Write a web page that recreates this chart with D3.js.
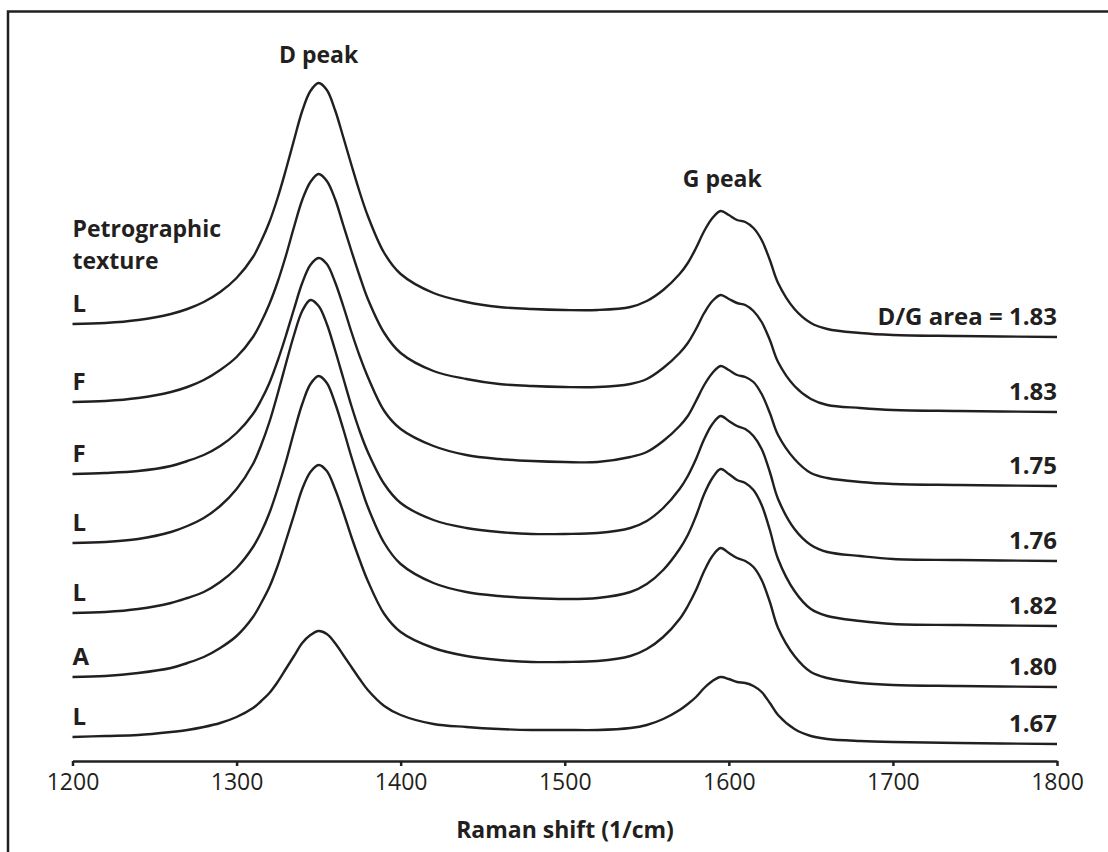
<!DOCTYPE html>
<html>
<head>
<meta charset="utf-8">
<script src="https://cdn.jsdelivr.net/npm/d3@7"></script>
<style>
  html, body { margin: 0; padding: 0; background: #fff; }
  svg { display: block; }
  text { font-family: "Open Sans", "Noto Sans", sans-serif; fill: #231f20; }
</style>
</head>
<body>
<svg id="chart" width="1108" height="852"></svg>
<script>
// Raman shift sample positions (1/cm)
const wavenumbers = [1200,1220,1240,1260,1270,1280,1290,1300,1310,1315,1320,1325,1330,1335,1340,1345,1350,1355,1360,1365,1370,1375,1380,1390,1400,1420,1440,1460,1480,1500,1520,1540,1550,1560,1570,1575,1580,1585,1590,1595,1600,1605,1610,1615,1620,1625,1630,1640,1650,1660,1680,1700,1740,1800];

// Intensities (a.u.) of each spectrum, top to bottom
const spectrum1 = [13,14,17,23,28,35,45,59,80,96,115,139,167,197,226,246,254,247,227,200,172,145,121,84,63,44,35,30,28,27,27,30,36,47,63,74,89,106,119,126,122,117,115,109,97,77,54,28,14,8,4,2,1,0];
const spectrum2 = [10,11,14,20,25,32,42,55,75,90,108,130,156,185,212,230,238,231,213,187,161,136,113,79,59,41,33,28,26,25,25,28,33,44,59,69,83,99,111,117,113,109,107,101,90,72,50,26,13,7,4,2,1,0];
const spectrum3 = [12,13,15,20,25,31,40,53,72,86,103,125,150,177,203,221,228,222,204,180,154,130,109,75,57,40,31,27,25,24,24,29,34,45,60,70,85,101,113,120,116,111,109,104,92,73,51,27,13,8,4,2,1,0];
const spectrum4 = [18,19,22,29,35,43,55,72,97,116,139,167,197,226,250,261,255,237,211,183,155,130,109,77,58,41,33,29,27,27,28,33,40,53,72,85,102,122,137,145,140,135,132,125,112,89,62,32,16,9,5,2,1,0];
const spectrum5 = [13,14,17,23,28,34,44,58,79,94,113,137,164,194,222,242,250,243,223,197,169,143,119,83,62,43,34,30,28,27,28,34,42,56,77,91,110,132,148,157,152,146,143,136,121,96,67,35,17,10,5,2,1,0];
const spectrum6 = [10,11,14,19,24,30,39,51,70,84,100,121,146,172,198,215,222,216,198,175,150,127,106,73,55,39,31,27,25,25,26,31,38,50,68,81,97,116,131,139,134,129,126,120,107,85,59,31,15,9,4,2,1,0];
const spectrum7 = [7,8,9,12,14,17,21,27,36,43,51,62,75,88,101,109,113,110,101,89,77,65,54,38,29,20,17,15,14,14,14,16,19,25,34,40,47,56,63,67,65,62,61,58,52,41,29,15,8,5,3,2,1,0];

// Vertical stacking offsets (a.u.) for each spectrum
const offsets = [424, 349, 275, 200, 135, 74, 17];

// Petrographic texture and D/G area ratio of each spectrum
const textures = ["L", "F", "F", "L", "L", "A", "L"];
const dgAreas = ["1.83", "1.83", "1.75", "1.76", "1.82", "1.80", "1.67"];

// Axis ticks
const xTicks = [1200, 1300, 1400, 1500, 1600, 1700, 1800];

const spectra = [spectrum1, spectrum2, spectrum3, spectrum4, spectrum5, spectrum6, spectrum7];

const ink = "#231f20";
const svg = d3.select("#chart");

const x = d3.scaleLinear().domain([1200, 1800]).range([72.5, 1057]);
const y = d3.scaleLinear().domain([0, 700]).range([761, 61]);

// Frame
svg.append("path")
  .attr("d", "M8,852 V11.5 H1108")
  .attr("fill", "none")
  .attr("stroke", ink)
  .attr("stroke-width", 2.5);

// Spectra
const line = d3.line()
  .x(d => x(d[0]))
  .y(d => y(d[1]))
  .curve(d3.curveCatmullRom.alpha(0.5));

spectra.forEach((vals, i) => {
  const pts = wavenumbers.map((w, j) => [w, vals[j] + offsets[i]]);
  svg.append("path")
    .attr("d", line(pts))
    .attr("fill", "none")
    .attr("stroke", ink)
    .attr("stroke-width", 2.4)
    .attr("stroke-linejoin", "round");

  // texture letter at left end
  svg.append("text")
    .attr("x", x(1200))
    .attr("y", y(vals[0] + offsets[i]) - 12)
    .attr("font-size", 24)
    .attr("font-weight", 700)
    .text(textures[i]);

  // D/G ratio at right end
  svg.append("text")
    .attr("x", x(1800))
    .attr("y", y(vals[vals.length - 1] + offsets[i]) - 12)
    .attr("text-anchor", "end")
    .attr("font-size", 24)
    .attr("font-weight", 700)
    .text(i === 0 ? "D/G area = " + dgAreas[i] : dgAreas[i]);
});

// X axis
const axis = svg.append("g")
  .attr("transform", "translate(0,761)")
  .call(d3.axisBottom(x).tickValues(xTicks).tickSize(5).tickSizeOuter(0).tickPadding(8).tickFormat(d3.format("d")));
axis.select(".domain").attr("stroke", ink).attr("stroke-width", 2.5);
axis.selectAll(".tick line").attr("stroke", ink).attr("stroke-width", 2.5);
axis.selectAll(".tick text")
  .attr("font-family", "'Open Sans', 'Noto Sans', sans-serif")
  .attr("font-size", 23)
  .attr("fill", ink);

svg.append("text")
  .attr("x", 565)
  .attr("y", 838)
  .attr("text-anchor", "middle")
  .attr("font-size", 23)
  .attr("font-weight", 700)
  .text("Raman shift (1/cm)");

// Peak annotations
svg.append("text")
  .attr("x", x(1350))
  .attr("y", 63)
  .attr("text-anchor", "middle")
  .attr("font-size", 23)
  .attr("font-weight", 700)
  .text("D peak");

svg.append("text")
  .attr("x", x(1596))
  .attr("y", 187)
  .attr("text-anchor", "middle")
  .attr("font-size", 23)
  .attr("font-weight", 700)
  .text("G peak");

// Texture heading
const heading = svg.append("text")
  .attr("x", x(1200))
  .attr("y", 237)
  .attr("font-size", 23)
  .attr("font-weight", 700);
heading.append("tspan").attr("x", x(1200)).text("Petrographic");
heading.append("tspan").attr("x", x(1200)).attr("dy", 32).text("texture");
</script>
</body>
</html>
